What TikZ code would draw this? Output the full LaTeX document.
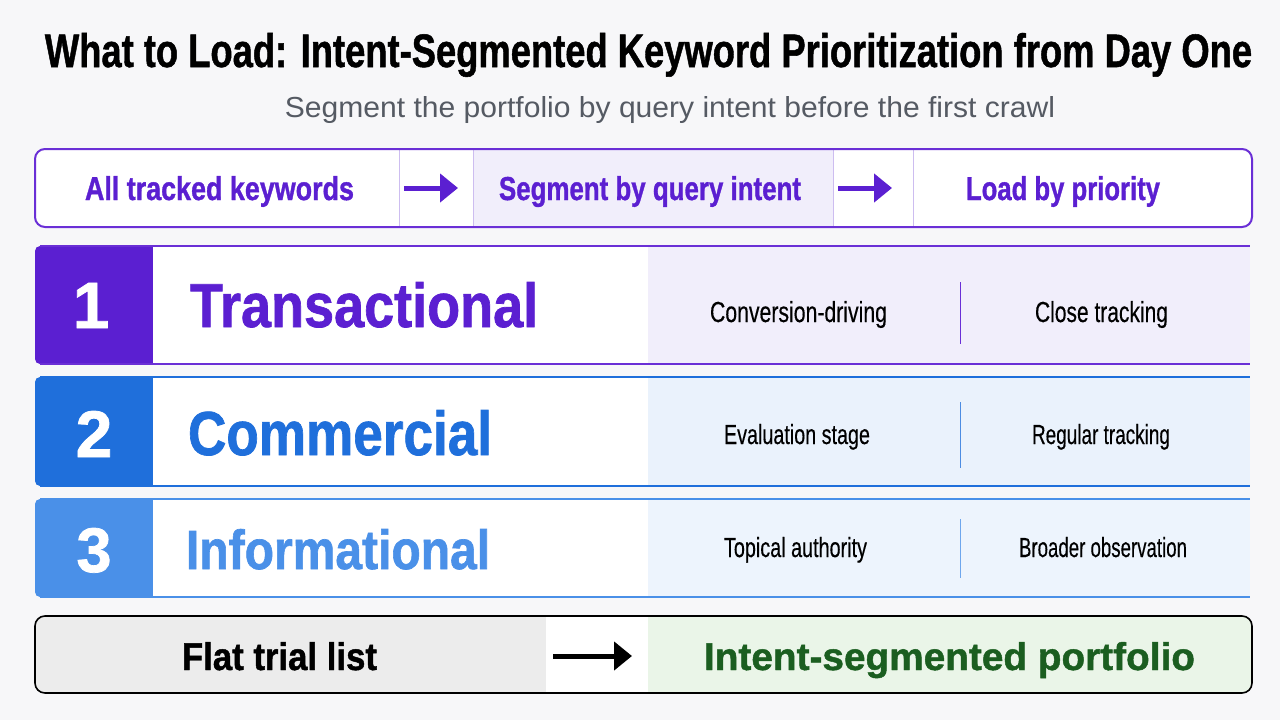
\documentclass[tikz,border=0pt]{standalone}
\usepackage{fontspec}
\setmainfont{Liberation Sans}
\newfontfamily\heavyfont[BoldFeatures={FakeBold=1.2}]{Liberation Sans}
\newfontfamily\medfont[UprightFeatures={FakeBold=0.4}]{Liberation Sans}
\usepackage{graphicx}
\usetikzlibrary{arrows.meta}
\definecolor{bg}{HTML}{F7F7F9}
\definecolor{purp}{HTML}{5B1FD1}
\definecolor{purpline}{HTML}{6A2FD6}
\definecolor{purpdiv}{HTML}{CDBDF0}
\definecolor{lav}{HTML}{F1EEFB}
\definecolor{blueA}{HTML}{1F6FDB}
\definecolor{blueAfill}{HTML}{EAF2FC}
\definecolor{blueB}{HTML}{4A90E8}
\definecolor{blueBfill}{HTML}{EDF4FD}
\definecolor{subgray}{HTML}{555A63}
\definecolor{flatgray}{HTML}{ECECEC}
\definecolor{greenfill}{HTML}{EAF5E8}
\definecolor{greentext}{HTML}{1B5E20}
\newcommand{\fitbox}[3]{\resizebox{#1pt}{#2pt}{#3}}
\newcommand{\fith}[2]{\resizebox{!}{#1pt}{#2}}
\begin{document}
\begin{tikzpicture}[x=1pt,y=-1pt,
  txt/.style={inner sep=0pt, outer sep=0pt, anchor=base},
  txtw/.style={inner sep=0pt, outer sep=0pt, anchor=base west},
  divline/.style={line width=1pt},
  flowarrow/.style={line width=5pt, -{Triangle[length=18pt,width=28pt]}}]
\useasboundingbox (0,0) rectangle (1280,720);
\fill[bg] (0,0) rectangle (1280,720);

% title and subtitle
\node[txt] (title) at (648.5,67) {\fitbox{1207}{34}{\heavyfont\bfseries What to Load: Intent-Segmented Keyword Prioritization from Day One}};
\node[txt, text=subgray] (subtitle) at (670,117) {\fitbox{770}{21}{Segment the portfolio by query intent before the first crawl}};

% top flow bar
\fill[white, rounded corners=10pt] (35,149) rectangle (1252,227);
\fill[lav] (473,150) rectangle (833,226);
\draw[purpdiv, divline] (399,150) -- (399,226);
\draw[purpdiv, divline] (473,150) -- (473,226);
\draw[purpdiv, divline] (833,150) -- (833,226);
\draw[purpdiv, divline] (913,150) -- (913,226);
\draw[purpline, line width=2pt, rounded corners=10pt] (35,149) rectangle (1252,227);
\node[txt, text=purp] (all) at (219.5,200) {\fitbox{269}{24}{\heavyfont\bfseries All tracked keywords}};
\node[txt, text=purp] (seg) at (650,200) {\fitbox{302}{24}{\heavyfont\bfseries Segment by query intent}};
\node[txt, text=purp] (load) at (1063,200) {\fitbox{194}{24}{\heavyfont\bfseries Load by priority}};
\coordinate (a1s) at (404,188);
\coordinate (a1e) at (458,188);
\coordinate (a2s) at (838,188);
\coordinate (a2e) at (892,188);
\draw[flowarrow, purp] (a1s) -- (a1e);
\draw[flowarrow, purp] (a2s) -- (a2e);

% row 1
\fill[lav] (648,247) rectangle (1250,363);
\fill[white] (153,247) rectangle (648,363);
\fill[purp, rounded corners=5pt] (160,246) -- (35,246) -- (35,364) -- (160,364) -- cycle;
\fill[white] (153,247) rectangle (170,363);
\draw[purpline, line width=2pt] (40,246) -- (1250,246);
\draw[purpline, line width=2pt] (40,364) -- (1250,364);
\draw[purpline, divline] (960,282) -- (960,344);
\node[txt, text=white] (n1) at (91,328) {\fith{45}{\heavyfont\bfseries 1}};
\node[txtw, text=purp] (t1) at (190,327) {\fitbox{348}{45}{\heavyfont\bfseries Transactional}};
\node[txt] (d1a) at (798.5,322) {\fitbox{177}{21}{\medfont Conversion-driving}};
\node[txt] (d1b) at (1101.5,322) {\fitbox{133}{21}{\medfont Close tracking}};

% row 2
\fill[blueAfill] (648,378) rectangle (1250,485);
\fill[white] (153,378) rectangle (648,485);
\fill[blueA, rounded corners=5pt] (160,377) -- (35,377) -- (35,486) -- (160,486) -- cycle;
\fill[white] (153,378) rectangle (170,485);
\draw[blueA, line width=2pt] (40,377) -- (1250,377);
\draw[blueA, line width=2pt] (40,486) -- (1250,486);
\draw[blueA!80, divline] (960,402) -- (960,468);
\node[txt, text=white] (n2) at (94,457) {\fith{46}{\heavyfont\bfseries 2}};
\node[txtw, text=blueA] (t2) at (188,455) {\fitbox{304}{45}{\heavyfont\bfseries Commercial}};
\node[txt] (d2a) at (797,444) {\fitbox{146}{20}{\medfont Evaluation stage}};
\node[txt] (d2b) at (1101,444) {\fitbox{138}{20}{\medfont Regular tracking}};

% row 3
\fill[blueBfill] (648,500) rectangle (1250,596);
\fill[white] (153,500) rectangle (648,596);
\fill[blueB, rounded corners=5pt] (160,499) -- (35,499) -- (35,597) -- (160,597) -- cycle;
\fill[white] (153,500) rectangle (170,596);
\draw[blueB, line width=2pt] (40,499) -- (1250,499);
\draw[blueB, line width=2pt] (40,597) -- (1250,597);
\draw[blueB!80, divline] (960,519) -- (960,578);
\node[txt, text=white] (n3) at (94,572) {\fith{44}{\heavyfont\bfseries 3}};
\node[txtw, text=blueB] (t3) at (186,569) {\fitbox{304}{40}{\heavyfont\bfseries Informational}};
\node[txt] (d3a) at (795.5,557) {\fitbox{143}{20}{\medfont Topical authority}};
\node[txt] (d3b) at (1103,557) {\fitbox{168}{20}{\medfont Broader observation}};

% bottom comparison bar
\begin{scope}
\clip[rounded corners=10pt] (35,616) rectangle (1252,693);
\fill[flatgray] (35,616) rectangle (546,693);
\fill[white] (546,616) rectangle (648,693);
\fill[greenfill] (648,616) rectangle (1252,693);
\end{scope}
\draw[black, line width=1.6pt, rounded corners=10pt] (35,616) rectangle (1252,693);
\node[txt] (flat) at (279.5,670) {\fitbox{195}{28}{\heavyfont\bfseries Flat trial list}};
\node[txt, text=greentext] (port) at (949.5,670) {\fitbox{491}{28}{\heavyfont\bfseries Intent-segmented portfolio}};
\coordinate (b1s) at (553,656);
\coordinate (b1e) at (632,656);
\draw[flowarrow, black] (b1s) -- (b1e);
\end{tikzpicture}
\end{document}
